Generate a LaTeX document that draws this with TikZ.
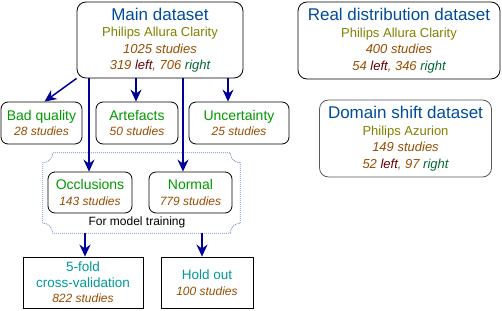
\documentclass[tikz,border=0pt]{standalone}
\usepackage{fontspec}
\setmainfont{Liberation Sans}
\usetikzlibrary{arrows.meta,calc}
\definecolor{titel}{HTML}{004C99}
\definecolor{geraet}{HTML}{808000}
\definecolor{anzahl}{HTML}{994C00}
\definecolor{links}{HTML}{660000}
\definecolor{rechts}{HTML}{006633}
\definecolor{klasse}{HTML}{009900}
\definecolor{teil}{HTML}{009999}
\definecolor{pfeilf}{HTML}{000099}
\definecolor{rahmenf}{HTML}{6C8EBF}
\newcommand{\tit}[1]{{\fontsize{17}{17}\selectfont\color{titel}#1}}
\newcommand{\ger}[1]{{\color{geraet}#1}}
\newcommand{\anz}[1]{{\color{anzahl}\itshape #1}}
\newcommand{\lr}[2]{{\color{anzahl}\itshape #1 \textcolor{links}{left}, #2 \textcolor{rechts}{right}}}
\tikzset{
  kasten/.style={draw,rounded corners=9pt,line width=0.8pt,align=center,inner sep=0pt,
    font=\fontsize{13}{16.5}\selectfont},
  klein/.style={draw,rounded corners=7pt,line width=0.8pt,align=center,inner sep=0pt,
    minimum height=42pt,font=\fontsize{12}{15.5}\selectfont},
  eckig/.style={draw,line width=0.8pt,align=center,inner sep=0pt,
    minimum height=51pt,font=\fontsize{12}{15.5}\selectfont},
  pfeil/.style={-{Stealth[length=12pt,width=11pt,inset=4pt]},pfeilf,line width=1.5pt},
  rahmen/.style={rahmenf,line width=0.8pt,dash pattern=on 1pt off 1pt},
}
\newcommand{\kl}[1]{{\fontsize{14}{14}\selectfont\color{klasse}#1}}
\newcommand{\tl}[1]{{\fontsize{13.5}{14}\selectfont\color{teil}#1}}
\begin{document}
\begin{tikzpicture}[x=1pt,y=-1pt]
  \useasboundingbox (0,0) rectangle (502,310);
  % datasets
  \node[kasten,minimum width=166pt,minimum height=76pt] (main) at (160,40)
    {\tit{Main dataset}\\ \ger{Philips Allura Clarity}\\ \anz{1025 studies}\\ \lr{319}{706}};
  \node[kasten,minimum width=202pt,minimum height=77pt] (real) at (399,40.5)
    {\tit{Real distribution dataset}\\ \ger{Philips Allura Clarity}\\ \anz{400 studies}\\ \lr{54}{346}};
  \node[kasten,draw=black!65,minimum width=172pt,minimum height=77pt] (shift) at (405.5,138.5)
    {\tit{Domain shift dataset}\\ \ger{Philips Azurion}\\ \anz{149 studies}\\ \lr{52}{97}};
  % excluded
  \node[klein,minimum width=81pt] (bad) at (41.5,123) {\kl{Bad quality}\\ \anz{28 studies}};
  \node[klein,minimum width=82pt] (art) at (137,123) {\kl{Artefacts}\\ \anz{50 studies}};
  \node[klein,minimum width=100pt] (unc) at (239,123) {\kl{Uncertainty}\\ \anz{25 studies}};
  % training
  \node[inner sep=0pt,minimum width=197pt,minimum height=80pt] (train) at (141.5,193) {};
  \draw[rahmen] ($(train.north west)+(10,0)$) -- ($(train.north east)+(-10,0)$)
    .. controls +(0,5.5) and +(-5.5,0) .. ($(train.north east)+(0,10)$)
    -- ($(train.south east)+(0,-10)$)
    .. controls +(-5.5,0) and +(0,-5.5) .. ($(train.south east)+(-10,0)$)
    -- ($(train.south west)+(10,0)$)
    .. controls +(0,-5.5) and +(5.5,0) .. ($(train.south west)+(0,-10)$)
    -- ($(train.north west)+(0,10)$)
    .. controls +(5.5,0) and +(0,5.5) .. cycle;
  \node[klein,minimum width=84pt,minimum height=41pt] (occ) at (90,192.5) {\kl{Occlusions}\\ \anz{143 studies}};
  \node[klein,minimum width=83pt,minimum height=41pt] (norm) at (190.5,192.5) {\kl{Normal}\\ \anz{779 studies}};
  \node[font=\fontsize{12}{12}\selectfont] (lab) at (137,222) {For model training};
  % splits
  \node[eckig,minimum width=120pt] (fold) at (83,282.5) {\tl{5-fold}\\ \tl{cross-validation}\\ \anz{822 studies}};
  \node[eckig,minimum width=92pt] (hold) at (207,282.5) {\tl{Hold out}\\ \anz{100 studies}};
  % connectors
  \draw[pfeil] (main.south west) -- ([xshift=3pt]bad.north);
  \draw[pfeil] ([xshift=-1pt]art.north |- main.south) -- ([xshift=-1pt]art.north);
  \draw[pfeil] ([xshift=-11pt]unc.north |- main.south) -- ([xshift=-11pt]unc.north);
  \draw[pfeil] ([xshift=-1pt]occ.north |- main.south) -- ([xshift=-1pt]occ.north);
  \draw[pfeil] ([xshift=-7.5pt]norm.north |- main.south) -- ([xshift=-7.5pt]norm.north);
  \draw[pfeil] ([xshift=2pt]fold.north |- train.south) -- ([xshift=2pt]fold.north);
  \draw[pfeil] ([xshift=-5pt]hold.north |- train.south) -- ([xshift=-5pt]hold.north);
\end{tikzpicture}
\end{document}
